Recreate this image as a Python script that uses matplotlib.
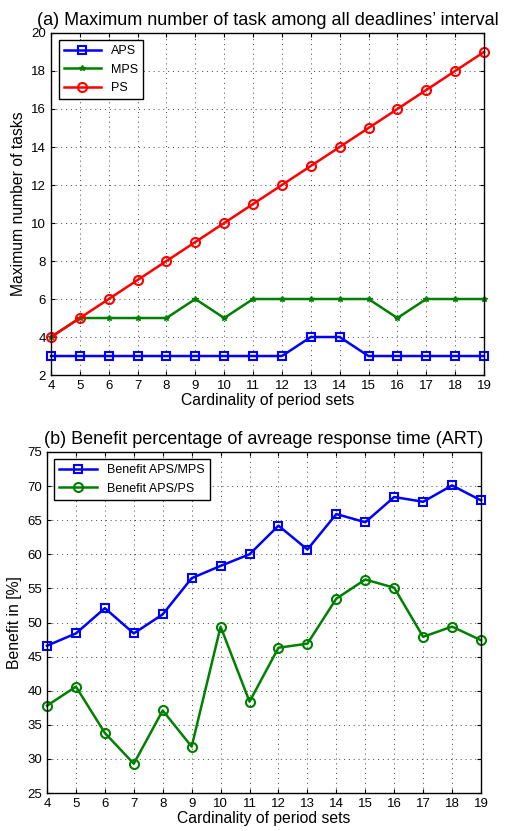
import matplotlib
matplotlib.use("Agg")
import matplotlib.pyplot as plt

plt.rcParams['font.family'] = ['Liberation Sans', 'DejaVu Sans']

card = list(range(4, 20))

# panel (a)
aps_tasks = [3, 3, 3, 3, 3, 3, 3, 3, 3, 4, 4, 3, 3, 3, 3, 3]
mps_tasks = [4, 5, 5, 5, 5, 6, 5, 6, 6, 6, 6, 6, 5, 6, 6, 6]
ps_tasks = [4, 5, 6, 7, 8, 9, 10, 11, 12, 13, 14, 15, 16, 17, 18, 19]

# panel (b)
benefit_mps = [46.6, 48.4, 52.1, 48.4, 51.2, 56.5, 58.3, 60.0, 64.2, 60.7,
               65.9, 64.7, 68.4, 67.7, 70.1, 67.9]
benefit_ps = [37.8, 40.6, 33.8, 29.3, 37.1, 31.8, 49.4, 38.4, 46.3, 46.9,
              53.5, 56.3, 55.1, 47.9, 49.4, 47.4]

fig = plt.figure(figsize=(5.07, 8.31), dpi=100)
ax1 = fig.add_axes([0.1006, 0.5487, 0.854, 0.4116])
ax2 = fig.add_axes([0.0927, 0.0457, 0.856, 0.4104])


def style(ax):
    ax.grid(True, linestyle=(0, (1, 4)), color='#444444', linewidth=0.7)
    ax.tick_params(direction='in', top=True, right=True, labelsize=9.5, length=3)
    for s in ax.spines.values():
        s.set_linewidth(1.0)
    ax.set_xticks(card)
    ax.set_xlim(4, 19)


ax1.plot(card, aps_tasks, '-s', color='blue', lw=1.8, ms=6, mfc='none', mew=1.5, label='APS', clip_on=False)
ax1.plot(card, mps_tasks, '-*', color='green', lw=1.8, ms=4, label='MPS', clip_on=False)
ax1.plot(card, ps_tasks, '-o', color='red', lw=1.8, ms=6.5, mfc='none', mew=1.5, label='PS', clip_on=False)
style(ax1)
ax1.set_ylim(2, 20)
ax1.set_yticks(range(2, 21, 2))
ax1.set_xlabel('Cardinality of period sets', fontsize=11.3, labelpad=1)
ax1.set_ylabel('Maximum number of tasks', fontsize=11.3)
ax1.set_title("(a) Maximum number of task among all deadlines\u2019 interval", fontsize=13, pad=6)
leg = ax1.legend(loc='upper left', fontsize=9, fancybox=False, edgecolor='black',
                 framealpha=1, handlelength=3, borderaxespad=0.6)
leg.get_frame().set_linewidth(1.0)

ax2.plot(card, benefit_mps, '-s', color='blue', lw=1.8, ms=6, mfc='none', mew=1.5, label='Benefit APS/MPS', clip_on=False)
ax2.plot(card, benefit_ps, '-o', color='green', lw=1.8, ms=6.5, mfc='none', mew=1.5, label='Benefit APS/PS', clip_on=False)
style(ax2)
ax2.set_ylim(25, 75)
ax2.set_yticks(range(25, 76, 5))
ax2.set_xlabel('Cardinality of period sets', fontsize=11.3, labelpad=1)
ax2.set_ylabel('Benefit in [%]', fontsize=11.3)
ax2.set_title('(b) Benefit percentage of avreage response time (ART)', fontsize=13, pad=6)
leg = ax2.legend(loc='upper left', fontsize=9, fancybox=False, edgecolor='black',
                 framealpha=1, handlelength=3, borderaxespad=0.6)
leg.get_frame().set_linewidth(1.0)

fig.savefig('out.png', dpi=100)
